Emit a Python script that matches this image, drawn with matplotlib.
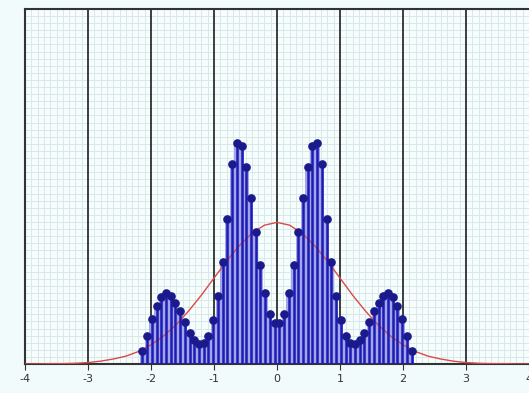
import numpy as np
import matplotlib
matplotlib.use("Agg")
import matplotlib.pyplot as plt
from matplotlib.ticker import MultipleLocator

# Sample positions of the stems
x_samples = [-2.1375, -2.0625, -1.9875, -1.9125, -1.8375, -1.7625, -1.6875, -1.6125,
             -1.5375, -1.4625, -1.3875, -1.3125, -1.2375, -1.1625, -1.0875, -1.0125,
             -0.9375, -0.8625, -0.7875, -0.7125, -0.6375, -0.5625, -0.4875, -0.4125,
             -0.3375, -0.2625, -0.1875, -0.1125, -0.0375,
             0.0375, 0.1125, 0.1875, 0.2625, 0.3375, 0.4125, 0.4875, 0.5625,
             0.6375, 0.7125, 0.7875, 0.8625, 0.9375, 1.0125, 1.0875, 1.1625,
             1.2375, 1.3125, 1.3875, 1.4625, 1.5375, 1.6125, 1.6875, 1.7625,
             1.8375, 1.9125, 1.9875, 2.0625, 2.1375]

# Stem heights
y_samples = [0.037, 0.079, 0.126, 0.164, 0.190, 0.199, 0.192, 0.173, 0.148, 0.117,
             0.088, 0.067, 0.057, 0.060, 0.079, 0.123, 0.192, 0.286, 0.409, 0.564,
             0.622, 0.613, 0.555, 0.468, 0.371, 0.280, 0.199, 0.142, 0.115,
             0.115, 0.142, 0.199, 0.280, 0.371, 0.468, 0.555, 0.613, 0.622,
             0.564, 0.409, 0.286, 0.192, 0.123, 0.079, 0.060, 0.057, 0.067,
             0.088, 0.117, 0.148, 0.173, 0.192, 0.199, 0.190, 0.164, 0.126,
             0.079, 0.037]

# Red reference curve
curve_x = [-4.0, -3.8, -3.6, -3.4, -3.2, -3.0, -2.8, -2.6, -2.4, -2.2, -2.0,
           -1.8, -1.6, -1.4, -1.2, -1.0, -0.8, -0.6, -0.4, -0.2, 0.0,
           0.2, 0.4, 0.6, 0.8, 1.0, 1.2, 1.4, 1.6, 1.8, 2.0,
           2.2, 2.4, 2.6, 2.8, 3.0, 3.2, 3.4, 3.6, 3.8, 4.0]
curve_y = [0.000, 0.000, 0.001, 0.001, 0.002, 0.004, 0.008, 0.014, 0.022, 0.035, 0.054,
           0.079, 0.111, 0.150, 0.194, 0.242, 0.290, 0.333, 0.368, 0.391, 0.399,
           0.391, 0.368, 0.333, 0.290, 0.242, 0.194, 0.150, 0.111, 0.079, 0.054,
           0.035, 0.022, 0.014, 0.008, 0.004, 0.002, 0.001, 0.001, 0.000, 0.000]

x_ticks = [-4, -3, -2, -1, 0, 1, 2, 3, 4]

fig = plt.figure(figsize=(5.29, 3.93), dpi=100, facecolor="#f2fbfb")
ax = fig.add_axes([25/529, 1 - 364/393, 504/529, 355/393])
ax.set_facecolor("#f7fcfc")
ax.set_xlim(-4, 4)
ax.set_ylim(0, 1)

# minor grid
ax.xaxis.set_minor_locator(MultipleLocator(0.1))
ax.yaxis.set_minor_locator(MultipleLocator(0.02))
ax.grid(which="minor", color="#d6e9e9", linewidth=0.7)
ax.set_axisbelow(True)

# major vertical lines
for t in x_ticks[1:-1]:
    ax.axvline(t, color="#2e2e2e", linewidth=1.3, zorder=1)

# light fill between stems
ax.bar(x_samples, y_samples, width=0.075, color="#a4a4ea", edgecolor="none", zorder=2)

# red curve
ax.plot(curve_x, curve_y, color="#d94a4a", linewidth=1.0, zorder=3)

# stems
ax.vlines(x_samples, 0, y_samples, color="#1c1cb4", linewidth=1.8, zorder=4)
ax.plot(x_samples, y_samples, "o", color="#1a1a8c", markersize=5.2, zorder=5)

ax.set_xticks(x_ticks)
ax.set_xticklabels([str(t) for t in x_ticks], fontsize=8, color="#333333")
ax.set_yticks([])
ax.tick_params(axis="x", which="major", length=4, color="#333333", pad=3)
ax.tick_params(axis="x", which="minor", length=0)
ax.tick_params(axis="y", which="minor", length=0)

for side in ["top", "bottom", "left"]:
    ax.spines[side].set_color("#333333")
    ax.spines[side].set_linewidth(1.5)
ax.spines["right"].set_visible(False)

fig.savefig("out.png", dpi=100, facecolor=fig.get_facecolor())
